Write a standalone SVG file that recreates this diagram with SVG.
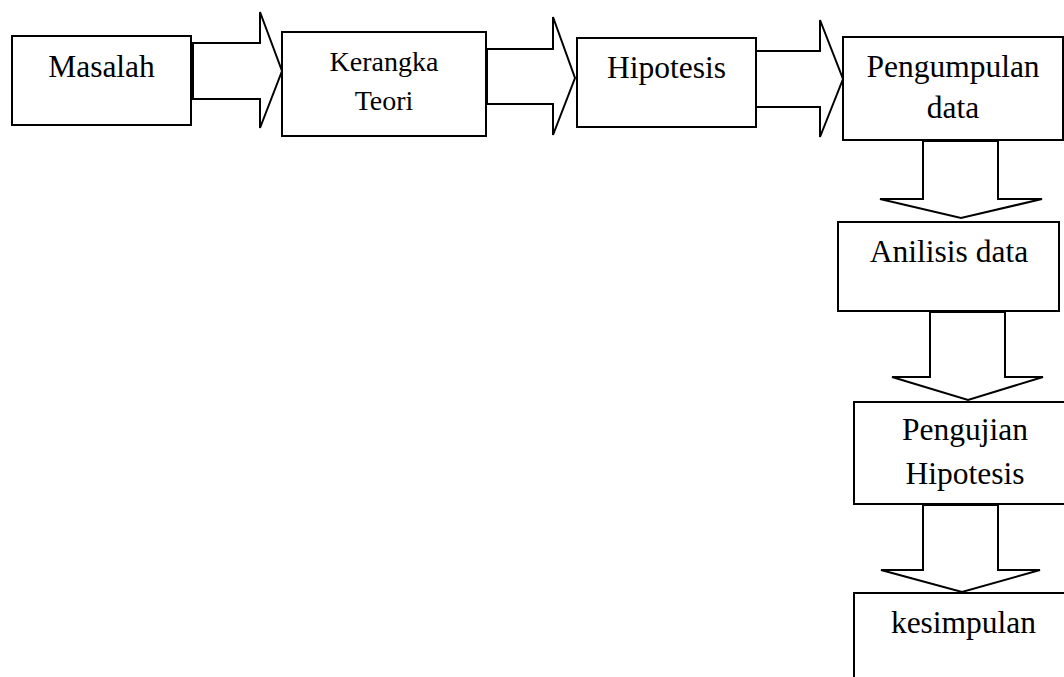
<svg xmlns="http://www.w3.org/2000/svg" width="1064" height="677" viewBox="0 0 1064 677">
<style>
.box{fill:#fff;stroke:#000;stroke-width:2}
.arr{fill:#fff;stroke:#000;stroke-width:2;stroke-linejoin:miter}
.t{font-family:"Liberation Serif","Times New Roman",serif;font-size:31.5px;fill:#000;text-anchor:middle}
.s{font-size:28px}
</style>
<rect width="1064" height="677" fill="#fff"/>
<g id="connectors">
<polygon class="arr" points="193,43 260,43 260,12 282,71 260,128 260,99 193,99"/>
<polygon class="arr" points="487,49 553,49 553,17 575,78 553,135 553,104 487,104"/>
<polygon class="arr" points="755,51 820,51 820,20 843,79 820,137 820,107 755,107"/>
<polygon class="arr" points="923,141 923,199 880,199 961,218 1042,199 998,199 998,141"/>
<polygon class="arr" points="930,312 930,377 892,377 968,400 1043,377 1005,377 1005,312"/>
<polygon class="arr" points="923,505 923,570 881,570 962,592 1040,570 998,570 998,505"/>
</g>
<g id="masalah">
<rect class="box" x="12" y="36" width="179" height="89"/>
<text class="t" x="101.5" y="77">Masalah</text>
</g>
<g id="kerangka">
<rect class="box" x="282" y="32" width="204" height="104"/>
<text class="t s" x="384" y="71">Kerangka</text>
<text class="t s" x="384" y="110">Teori</text>
</g>
<g id="hipotesis">
<rect class="box" x="577" y="38" width="179" height="89"/>
<text class="t" x="666.5" y="78">Hipotesis</text>
</g>
<g id="pengumpulan">
<rect class="box" x="843" y="37" width="220" height="103"/>
<text class="t" x="953" y="77">Pengumpulan</text>
<text class="t" x="953" y="118">data</text>
</g>
<g id="analisis">
<rect class="box" x="838" y="222" width="221" height="89"/>
<text class="t" x="949" y="262">Anilisis data</text>
</g>
<g id="pengujian">
<rect class="box" x="854" y="402" width="230" height="102"/>
<text class="t" x="965" y="440">Pengujian</text>
<text class="t" x="965" y="484">Hipotesis</text>
</g>
<g id="kesimpulan">
<rect class="box" x="854" y="593" width="230" height="100"/>
<text class="t" x="963.5" y="633">kesimpulan</text>
</g>
</svg>
